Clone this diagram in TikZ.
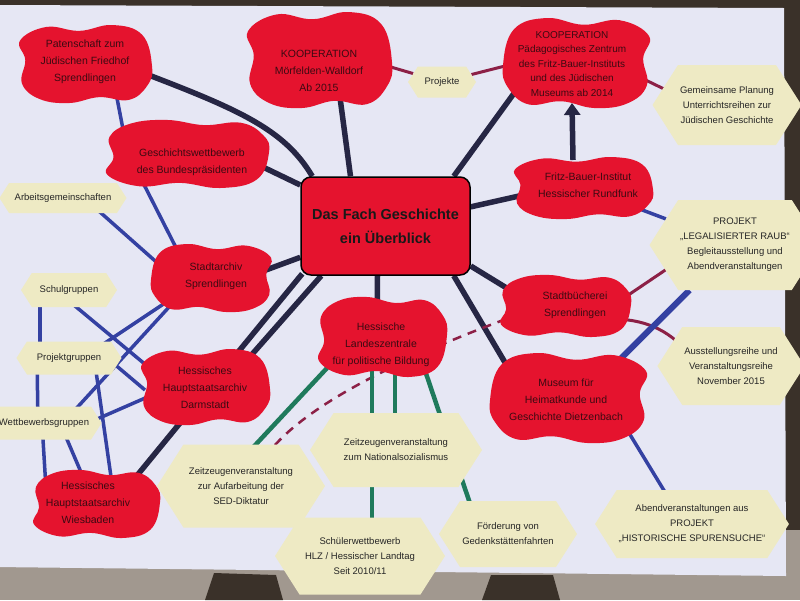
\documentclass[tikz,border=0pt]{standalone}
\usepackage{fontspec}
\setmainfont{Liberation Sans}
\usetikzlibrary{shapes.symbols,calc,arrows.meta}
\pgfdeclarelayer{bg}
\pgfdeclarelayer{blobs}
\pgfsetlayers{bg,blobs,main}
\definecolor{poster}{HTML}{E6E7F4}
\definecolor{cloudred}{HTML}{E5132E}
\definecolor{cloudtxt}{HTML}{3C0A12}
\definecolor{hexfill}{HTML}{EEEAC4}
\definecolor{hextxt}{HTML}{262626}
\definecolor{navy}{HTML}{262644}
\definecolor{lineblue}{HTML}{3441A2}
\definecolor{maroon}{HTML}{8C2046}
\definecolor{lgreen}{HTML}{1F7A5C}
\definecolor{outside}{HTML}{A1988F}
\definecolor{darkout}{HTML}{3A3129}
\tikzset{
 blobtext/.style={align=center, text=cloudtxt, inner sep=0pt, font=\fontsize{10.5}{17}\selectfont},
 hexnode/.style={shape=signal, signal to=west and east, signal pointer angle=115, fill=hexfill, text=hextxt, align=center, inner sep=2pt, font=\fontsize{9.5}{15}\selectfont},
 centerbox/.style={rectangle, rounded corners=10pt, fill=cloudred, draw=black, line width=1.5pt, align=center, font=\bfseries\fontsize{14.5}{24}\selectfont, minimum width=169pt, minimum height=98pt, text=black!90},
 dk/.style={draw=navy, line width=5.5pt},
 bl/.style={draw=lineblue, line width=3.5pt},
 mr/.style={draw=maroon, line width=3pt},
 gr/.style={draw=lgreen, line width=4.5pt},
 blobfill/.style={fill=cloudred},
}
\newcommand\drawblob[5]{\fill[blobfill, shift={($(#1.center)+(#2,#3)$)}, xscale=#4, yscale=#5] plot[smooth cycle, tension=0.7] coordinates {(1.0,0.05) (0.93,0.55) (0.65,0.92) (0.2,0.85) (-0.25,1.0) (-0.7,0.9) (-0.97,0.5) (-0.92,-0.1) (-1.0,-0.6) (-0.6,-0.95) (-0.1,-0.85) (0.4,-1.0) (0.85,-0.75)};}
\begin{document}
\begin{tikzpicture}[x=1pt,y=-1pt]
\useasboundingbox (0,0) rectangle (800,600);
% nodes
\node[blobtext] (pat) at (85,62) {Patenschaft zum\\Jüdischen Friedhof\\Sprendlingen};
\node[blobtext] (moerf) at (319,71) {KOOPERATION\\Mörfelden-Walldorf\\Ab 2015};
\node[hexnode, minimum width=68pt, minimum height=31pt] (projekte) at (442,82) {Projekte};
\node[blobtext, font=\fontsize{10}{14.5}\selectfont] (paed) at (572,64) {KOOPERATION\\Pädagogisches Zentrum\\des Fritz-Bauer-Instituts\\und des Jüdischen\\Museums ab 2014};
\node[hexnode, minimum width=146pt, minimum height=80pt] (gemein) at (727,105) {Gemeinsame Planung\\Unterrichtsreihen zur\\Jüdischen Geschichte};
\node[blobtext] (gesch) at (192,162) {Geschichtswettbewerb\\des Bundespräsidenten};
\node[hexnode, minimum width=127pt, minimum height=30pt] (arbeit) at (63,198) {Arbeitsgemeinschaften};
\node[centerbox] (center) at (385.5,226) {Das Fach Geschichte\\ein Überblick};
\node[blobtext] (fritz) at (588,185) {Fritz-Bauer-Institut\\Hessischer Rundfunk};
\node[hexnode, minimum width=131pt, minimum height=90pt] (raub) at (735,245) {PROJEKT\\„LEGALISIERTER RAUB“\\Begleitausstellung und\\Abendveranstaltungen};
\node[blobtext] (stadtarchiv) at (216,276) {Stadtarchiv\\Sprendlingen};
\node[hexnode, minimum width=96pt, minimum height=34pt] (schul) at (69,290) {Schulgruppen};
\node[blobtext] (buech) at (575,305) {Stadtbücherei\\Sprendlingen};
\node[blobtext] (lz) at (381,345) {Hessische\\Landeszentrale\\für politische Bildung};
\node[hexnode, minimum width=105pt, minimum height=33pt] (projg) at (69,358) {Projektgruppen};
\node[hexnode, minimum width=137pt, minimum height=78pt] (ausst) at (731,366) {Ausstellungsreihe und\\Veranstaltungsreihe\\November 2015};
\node[blobtext] (darm) at (205,388) {Hessisches\\Hauptstaatsarchiv\\Darmstadt};
\node[hexnode, minimum width=112pt, minimum height=33pt] (wettb) at (44,423) {Wettbewerbsgruppen};
\node[blobtext] (museum) at (566,400) {Museum für\\Heimatkunde und\\Geschichte Dietzenbach};
\node[hexnode, minimum width=168pt, minimum height=83pt] (sed) at (241,486) {Zeitzeugenveranstaltung\\zur Aufarbeitung der\\SED-Diktatur};
\node[hexnode, minimum width=172pt, minimum height=74pt] (ns) at (396,450) {Zeitzeugenveranstaltung\\zum Nationalsozialismus};
\node[blobtext] (wies) at (88,503) {Hessisches\\Hauptstaatsarchiv\\Wiesbaden};
\node[hexnode, minimum width=170pt, minimum height=77pt] (schueler) at (360,556) {Schülerwettbewerb\\HLZ / Hessischer Landtag\\Seit 2010/11};
\node[hexnode, minimum width=138pt, minimum height=66pt] (foerd) at (508,534) {Förderung von\\Gedenkstättenfahrten};
\node[hexnode, minimum width=191pt, minimum height=68pt] (abend) at (692,524) {Abendveranstaltungen aus\\PROJEKT\\„HISTORISCHE SPURENSUCHE“};
% blobs
\begin{pgfonlayer}{blobs}
\drawblob{pat}{1}{2}{66}{39}
\drawblob{moerf}{1}{-11}{72}{48}
\drawblob{paed}{4}{-1}{-73}{45}
\drawblob{gesch}{-4}{-8}{81}{-34}
\drawblob{fritz}{-4}{3}{69}{31}
\drawblob{stadtarchiv}{-5}{2}{-60}{34}
\drawblob{buech}{-9}{1}{65}{-31}
\drawblob{lz}{2}{-8}{64}{-40}
\drawblob{darm}{1}{-1}{64}{38}
\drawblob{museum}{2}{-2}{-78}{45}
\drawblob{wies}{9}{1}{63}{-34}
\end{pgfonlayer}
% background and connectors
\begin{pgfonlayer}{bg}
\fill[outside] (0,0) rectangle (800,600);
\fill[darkout] (0,0) rectangle (800,8);
\fill[darkout] (782,0) rectangle (800,530);
\fill[darkout] (205,600) -- (214,573) -- (276,575) -- (283,600) -- cycle;
\fill[darkout] (482,600) -- (491,575) -- (553,575) -- (560,600) -- cycle;
\fill[poster] (-5,5) -- (784,8) -- (786,576) -- (-5,567) -- cycle;
% dark
\draw[dk] ($(pat)+(61,12)$) .. controls (240,110) and (285,130) .. ($(center.north west)+(12,0)$);
\draw[dk] ($(gesch)+(46,-7)$) -- (center);
\draw[dk] ($(moerf)+(16,-11)$) -- ($(center.north)+(-35,0)$);
\draw[dk] ($(paed)+(-36,-1)$) -- ($(center.north east)+(-17,0)$);
\draw[dk] ($(fritz)+(-20,0)$) -- (center);
\draw[dk] ($(stadtarchiv)+(20,5)$) -- (center);
\draw[dk] ($(wies)+(47,-25)$) -- ($(center.south west)+(2,-2)$);
\draw[dk] ($(darm)+(20,-3)$) -- ($(center.south west)+(21,0)$);
\draw[dk] ($(lz)+(-4,-7)$) -- ($(center.south)+(-8,0)$);
\draw[dk] ($(center.east)+(0,40)$) -- ($(buech)+(-39,1)$);
\draw[dk] ($(center.south east)+(-17,0)$) -- ($(museum)+(-40,-2)$);
\draw[dk, -{Triangle[width=16pt,length=12pt]}] ($(fritz)+(-15,-25)$) -- ($(paed)+(0,39)$);
% maroon
\draw[mr] ($(moerf)+(0,-25)$) -- (projekte);
\draw[mr] (projekte) -- ($(paed)+(0,-15)$);
\draw[mr] ($(paed)+(20,-10)$) -- ($(gemein)+(-30,0)$);
\draw[mr] ($(buech)+(40,-1)$) -- ($(raub)+(-40,5)$);
\draw[mr] ($(buech)+(40,14)$) .. controls (650,320) and (672,333) .. ($(ausst)+(-40,-10)$);
\draw[draw=maroon, line width=2.5pt, dash pattern=on 9pt off 7pt] ($(sed)+(34,-41)$) .. controls (320,395) and (430,345) .. ($(buech)+(-30,0)$);
% blue
\draw[bl] ($(pat)+(25,0)$) -- ($(gesch)+(-64,-7)$);
\draw[bl] ($(gesch)+(-59,1)$) -- ($(stadtarchiv)+(-22,7)$);
\draw[bl] ($(arbeit)+(20,-1)$) -- ($(stadtarchiv)+(-36,7)$);
\draw[bl] ($(schul)+(-29,0)$) -- ($(projg)+(-29,0)$);
\draw[bl] ($(projg)+(-32,0)$) -- ($(wettb)+(-6,0)$);
\draw[bl] ($(wettb)+(-2,0)$) -- ($(wies)+(-41,2)$);
\draw[bl] ($(schul)+(-12,1)$) -- ($(darm)+(-35,-3)$);
\draw[bl] ($(projg)+(15,-1)$) -- ($(stadtarchiv)+(-21,7)$);
\draw[bl] ($(projg)+(37,-1)$) -- ($(darm)+(-60,2)$);
\draw[bl] ($(wettb)+(19,0)$) -- ($(stadtarchiv)+(-25,7)$);
\draw[bl] ($(wettb)+(44,0)$) -- ($(darm)+(-30,-3)$);
\draw[bl] ($(projg)+(25,-1)$) -- ($(wies)+(27,2)$);
\draw[bl] ($(wettb)+(16,0)$) -- ($(wies)+(7,2)$);
\draw[bl] ($(fritz)+(-4,3)$) -- (raub);
\draw[bl, line width=6pt] ($(museum)+(8,5)$) -- (raub);
\draw[bl] ($(museum)+(46,5)$) -- ($(abend)+(-7,1)$);
% green
\draw[gr] ($(lz)+(-26,-7)$) -- ($(sed)+(-23,-1)$);
\draw[gr] ($(lz)+(-9,-7)$) -- ($(schueler)+(12,-1)$);
\draw[gr] ($(lz)+(14,-7)$) -- ($(ns)+(-1,-2)$);
\draw[gr] ($(lz)+(33,-7)$) -- ($(foerd)+(-28,-1)$);
\end{pgfonlayer}
\end{tikzpicture}
\end{document}
